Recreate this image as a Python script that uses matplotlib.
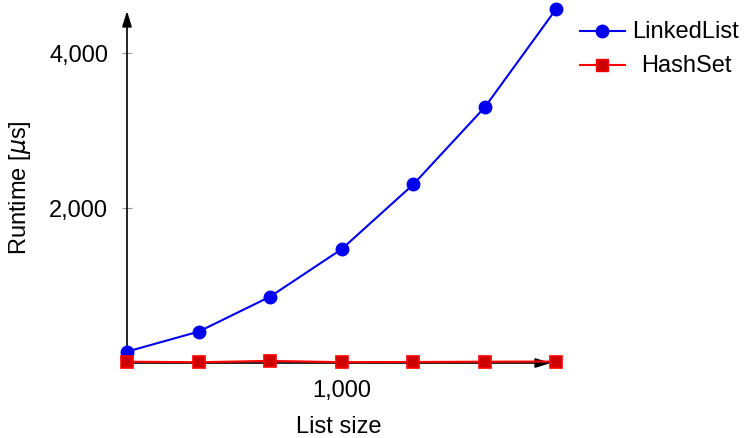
import matplotlib
matplotlib.use("Agg")
import matplotlib.pyplot as plt
from matplotlib.lines import Line2D

list_size = [700, 800, 900, 1000, 1100, 1200, 1300]
linkedlist_us = [142, 400, 852, 1466, 2301, 3299, 4572]
hashset_us = [12, 5, 22, 6, 8, 12, 14]

x_ticks = [1000]
x_tick_labels = ["1,000"]
y_ticks = [2000, 4000]
y_tick_labels = ["2,000", "4,000"]

BLUE = "#0000ee"
RED = "#ff0000"
RED_FILL = "#cc0000"

plt.rcParams["font.family"] = ["Liberation Sans", "DejaVu Sans"]
plt.rcParams["font.size"] = 17

W, H = 747, 439
fig = plt.figure(figsize=(W / 100, H / 100), dpi=100)
ax = fig.add_axes([127 / W, (H - 364) / H, (551 - 127) / W, (364 - 12) / H])

ax.plot(list_size, linkedlist_us, color=BLUE, lw=1.5, marker="o", ms=9,
        mfc=BLUE, mec=BLUE, clip_on=False, zorder=3)
ax.plot(list_size, hashset_us, color=RED, lw=1.5, marker="s", ms=8.5,
        mfc=RED_FILL, mec=RED, mew=1.2, clip_on=False, zorder=3)

ax.set_xlim(700, 1292.5)
ax.set_ylim(-5, 4542)

for s in ax.spines.values():
    s.set_visible(False)
arrow = dict(arrowstyle="-|>,head_width=0.17,head_length=0.55", lw=1.2,
             color="black", shrinkA=0, shrinkB=0)
ax.annotate("", xy=(1, 0), xytext=(0, 0), xycoords="axes fraction",
            arrowprops=arrow, zorder=2)
ax.annotate("", xy=(0, 1), xytext=(0, 0), xycoords="axes fraction",
            arrowprops=arrow, zorder=2)

ax.set_xticks(x_ticks, x_tick_labels)
ax.set_yticks(y_ticks, y_tick_labels)
ax.tick_params(direction="inout", length=7, width=0.8, color="#999999", pad=8)
ax.tick_params(axis="y", pad=10)

ax.set_xlabel("List size", labelpad=10)
ax.set_ylabel(r"Runtime [$\mu$s]", labelpad=12)

# legend drawn by hand so the entries sit centred like the original
for yy, col, mk, ms, mfc, label in [
    (32, BLUE, "o", 9, BLUE, "LinkedList"),
    (66, RED, "s", 8.5, RED_FILL, "HashSet"),
]:
    fy = (H - yy) / H
    fig.add_artist(Line2D([580 / W, 625 / W], [fy, fy], color=col, lw=1.5))
    fig.add_artist(Line2D([602 / W], [fy], color=col, marker=mk, ms=ms,
                          mfc=mfc, mec=col))
    fig.text(686 / W, fy, label, ha="center", va="center")

fig.savefig("out.png", dpi=100)
